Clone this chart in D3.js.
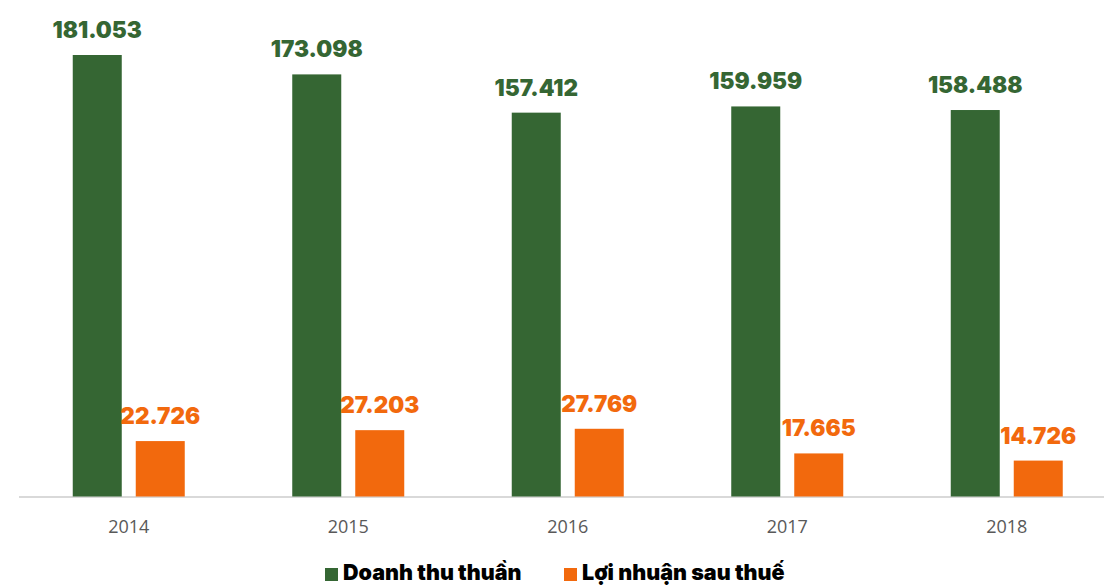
<!DOCTYPE html>
<html><head><meta charset="utf-8">
<script src="https://cdn.jsdelivr.net/npm/d3@7"></script>
<style>body{margin:0;background:#fff}svg{display:block}</style>
</head><body>
<script>
const years = ["2014","2015","2016","2017","2018"];
const revenue = [181.053,173.098,157.412,159.959,158.488];
const profit = [22.726,27.203,27.769,17.665,14.726];
const seriesNames = ["Doanh thu thuần","Lợi nhuận sau thuế"];
const colors = ["#356633","#F2690D"];

const W=1104,H=585;
const svg=d3.select("body").append("svg").attr("width",W).attr("height",H);
const baseY=496.5;
const x=d3.scaleBand().domain(years).range([19,1116.5]).paddingInner(0).paddingOuter(0);
const y=d3.scaleLinear().domain([0,181.053]).range([baseY,55]);
const bw=49, gap=14;
const fmt=v=>v.toFixed(3);

svg.append("line").attr("x1",19).attr("x2",W).attr("y1",baseY+0.5).attr("y2",baseY+0.5)
  .attr("stroke","#d9d9d9").attr("stroke-width",2);

const series=[revenue,profit];
series.forEach((vals,si)=>{
  const g=svg.append("g");
  g.selectAll("rect").data(vals).join("rect")
    .attr("x",(d,i)=>x(years[i])+x.bandwidth()/2-(bw+gap/2)+si*(bw+gap))
    .attr("width",bw)
    .attr("y",d=>y(d)).attr("height",d=>baseY-y(d))
    .attr("fill",colors[si]);
  g.selectAll("text").data(vals).join("text")
    .attr("x",(d,i)=>x(years[i])+x.bandwidth()/2-(bw+gap/2)+si*(bw+gap)+bw/2)
    .attr("y",d=>y(d)-17)
    .attr("text-anchor","middle")
    .attr("font-family","Inter, sans-serif").attr("font-weight",900).attr("font-size",22.5)
    .attr("fill",colors[si]).text(fmt);
});

svg.append("g").selectAll("text").data(years).join("text")
  .attr("x",d=>x(d)+x.bandwidth()/2).attr("y",533)
  .attr("text-anchor","middle").attr("font-family","'Open Sans', sans-serif")
  .attr("font-size",18).attr("fill","#595959").text(d=>d);

const leg=[{x:325,name:seriesNames[0],c:colors[0]},{x:564,name:seriesNames[1],c:colors[1]}];
const lg=svg.append("g");
leg.forEach(l=>{
  lg.append("rect").attr("x",l.x).attr("y",568).attr("width",13).attr("height",13).attr("fill",l.c);
  lg.append("text").attr("x",l.x+18).attr("y",580)
    .attr("font-family","Inter, sans-serif").attr("font-weight",900).attr("font-size",21.5)
    .attr("fill","#000").text(l.name);
});
</script>
</body></html>
